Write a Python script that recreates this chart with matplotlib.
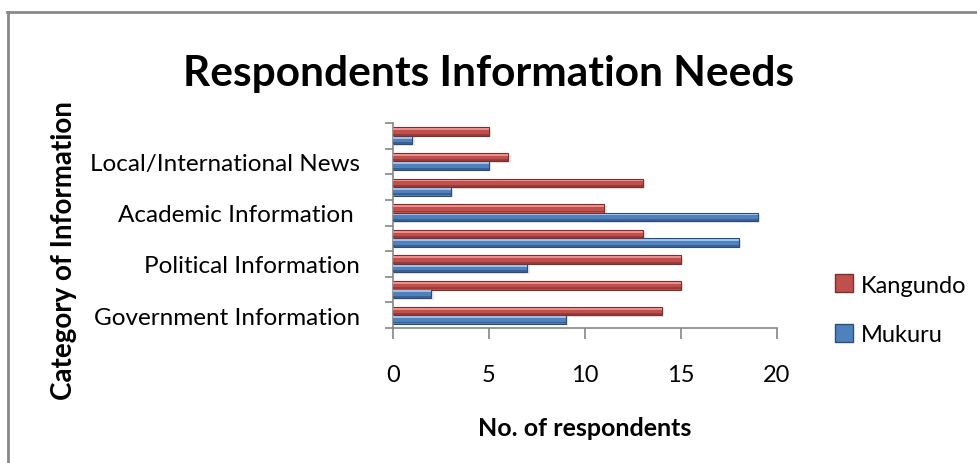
import numpy as np
import matplotlib.pyplot as plt
from matplotlib.lines import Line2D

plt.rcParams['font.family'] = ['Lato', 'DejaVu Sans']

# data, bottom category first
categories = ["Government Information", "", "Political Information", "",
              "Academic Information ", "", "Local/International News", ""]
mukuru = [9, 2, 7, 18, 19, 3, 5, 1]
kangundo = [14, 15, 15, 13, 11, 13, 6, 5]
series_names = ["Mukuru", "Kangundo"]
x_ticks = [0, 5, 10, 15, 20]

blue = ("#4F81BD", "#9CC0EC", "#2C4D75")
red = ("#C0504D", "#F08C8A", "#7A2F2D")

fig = plt.figure(figsize=(9.77, 4.64), dpi=100)
ax = fig.add_axes([393 / 977, 1 - 329 / 464, 384 / 977, 205 / 464])

y = np.arange(len(categories))
h = 0.33


def bevel_bars(pos, vals, cols):
    # soft shadow, main bar, highlight strip on top
    ax.barh(pos - 0.06, [v + 0.12 for v in vals], h, left=0, color="#bbbbbb",
            alpha=0.35, linewidth=0, zorder=1)
    ax.barh(pos, vals, h, color=cols[0], edgecolor=cols[2], linewidth=0.8, zorder=2)
    ax.barh(pos + h * 0.28, vals, h * 0.22, color=cols[1], linewidth=0, zorder=3)
    ax.barh(pos - h * 0.36, vals, h * 0.22, color=cols[2], alpha=0.6, linewidth=0, zorder=3)


bevel_bars(y - h / 2, mukuru, blue)
bevel_bars(y + h / 2, kangundo, red)

ax.set_xlim(0, 20)
ax.set_ylim(-0.5, len(categories) - 0.5)
ax.set_xticks(x_ticks)
ax.set_xticklabels([str(t) for t in x_ticks], fontsize=17)
ax.set_yticks(y)
ax.set_yticklabels(categories, fontsize=17.5)
ax.set_yticks(np.arange(-0.5, len(categories)), minor=True)
ax.tick_params(axis='y', which='major', length=0, pad=24)
ax.tick_params(axis='y', which='minor', length=6, color="#868686", width=1.2)
ax.tick_params(axis='x', length=8, color="#868686", width=1.2, pad=18)

for s in ["top", "right"]:
    ax.spines[s].set_visible(False)
for s in ["left", "bottom"]:
    ax.spines[s].set_color("#868686")
    ax.spines[s].set_linewidth(1.2)

ax.set_xlabel("No. of respondents", fontsize=18, fontweight="bold", labelpad=22)
fig.text(0.065, 0.46, "Category of Information", rotation=90, fontsize=20,
         fontweight="bold", ha="center", va="center")
fig.text(0.5, 0.84, "Respondents Information Needs", fontsize=30.5,
         fontweight="bold", ha="center", va="center")

handles = [
    Line2D([], [], marker="s", linestyle="none", markersize=13,
           markerfacecolor=red[0], markeredgecolor=red[2]),
    Line2D([], [], marker="s", linestyle="none", markersize=13,
           markerfacecolor=blue[0], markeredgecolor=blue[2]),
]
fig.legend(handles, [series_names[1], series_names[0]], loc="center left",
           bbox_to_anchor=(0.83, 0.33), frameon=False, fontsize=17,
           labelspacing=1.2, handletextpad=0.2, handlelength=1.0)

# chart border (top and left edges)
fig.add_artist(Line2D([7 / 977, 1], [1 - 13 / 464, 1 - 13 / 464],
                      transform=fig.transFigure, color="#888888", lw=2))
fig.add_artist(Line2D([8 / 977, 8 / 977], [0, 1 - 13 / 464],
                      transform=fig.transFigure, color="#888888", lw=2))

fig.savefig("out.png", dpi=100)
